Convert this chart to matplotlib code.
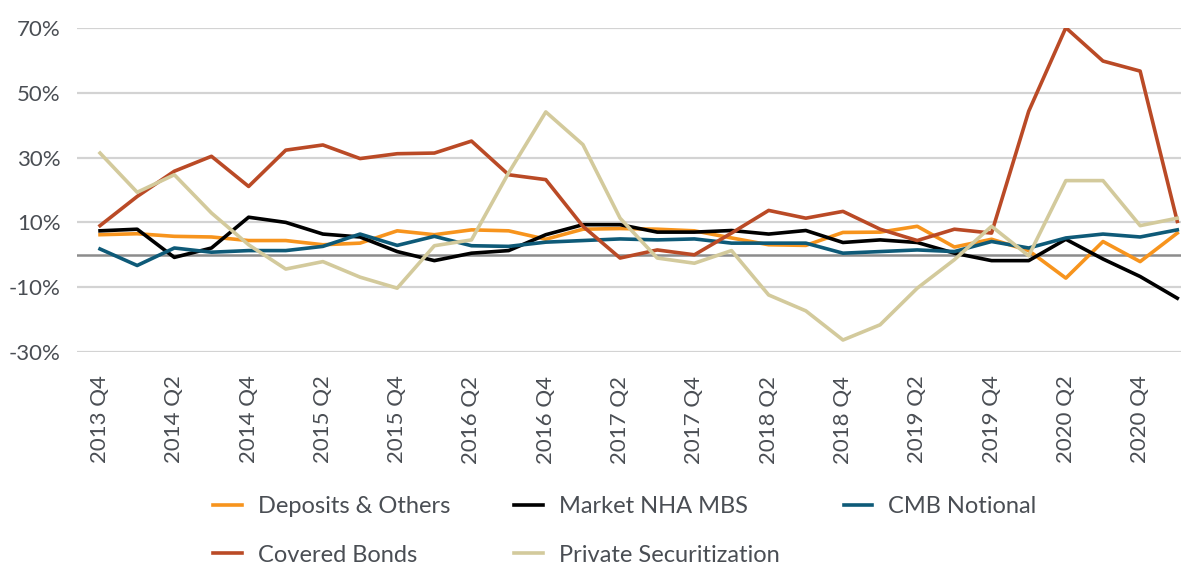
import numpy as np
import matplotlib.pyplot as plt

## Data (year-over-year growth, %)

quarters = ["2013 Q4", "2014 Q1", "2014 Q2", "2014 Q3", "2014 Q4",
            "2015 Q1", "2015 Q2", "2015 Q3", "2015 Q4", "2016 Q1",
            "2016 Q2", "2016 Q3", "2016 Q4", "2017 Q1", "2017 Q2",
            "2017 Q3", "2017 Q4", "2018 Q1", "2018 Q2", "2018 Q3",
            "2018 Q4", "2019 Q1", "2019 Q2", "2019 Q3", "2019 Q4",
            "2020 Q1", "2020 Q2", "2020 Q3", "2020 Q4", "2021 Q1"]

deposits = [6.2, 6.5, 5.7, 5.5, 4.4, 4.4, 3.1, 3.6, 7.4, 6.2,
            7.7, 7.4, 4.8, 7.9, 8.1, 7.9, 7.4, 5.2, 3.1, 2.9,
            6.9, 7.0, 8.8, 2.4, 4.8, 1.3, -7.2, 4.1, -2.1, 6.7]

market_nha = [7.4, 7.9, -0.8, 2.1, 11.6, 10.0, 6.4, 5.5, 1.0, -1.8,
              0.5, 1.3, 6.2, 9.3, 9.3, 7.0, 7.0, 7.5, 6.4, 7.5,
              3.8, 4.6, 3.8, 0.5, -1.8, -1.8, 4.8, -1.3, -6.7, -13.4]

cmb = [1.8, -3.3, 2.1, 0.8, 1.3, 1.3, 2.6, 6.4, 2.9, 5.7,
       2.8, 2.6, 3.9, 4.4, 4.9, 4.6, 4.9, 3.6, 3.6, 3.6,
       0.5, 1.0, 1.5, 1.0, 4.1, 2.1, 5.2, 6.4, 5.5, 7.7]

covered = [9.0, 18.0, 25.8, 30.4, 21.1, 32.3, 33.9, 29.7, 31.2, 31.4,
           35.1, 24.7, 23.2, 8.8, -1.0, 1.5, 0.0, 6.7, 13.7, 11.3,
           13.4, 7.9, 4.4, 7.9, 6.7, 44.3, 70.1, 59.8, 56.7, 10.3]

private_sec = [31.4, 19.3, 24.7, 12.9, 3.1, -4.4, -2.1, -6.9, -10.3, 2.8,
               4.6, 25.3, 44.1, 34.0, 11.3, -1.0, -2.6, 1.3, -12.4, -17.3,
               -26.3, -21.6, -10.3, -1.5, 8.8, -0.3, 22.9, 22.9, 9.0, 11.3]

series = [("Deposits & Others", deposits, "#F7941D"),
          ("Market NHA MBS", market_nha, "#000000"),
          ("CMB Notional", cmb, "#0E5A78"),
          ("Covered Bonds", covered, "#BA4A26"),
          ("Private Securitization", private_sec, "#D3CA9C")]

yticks = [-30, -10, 10, 30, 50, 70]

plt.rcParams['font.family'] = ['Lato', 'DejaVu Sans']
text_color = "#4A4E54"

fig = plt.figure(figsize=(11.81, 5.66), dpi=100)
ax = fig.add_axes([77 / 1181, 1 - 352 / 566, 1 - 77 / 1181, 324 / 566])

x = np.arange(len(quarters))

# gridlines and zero line
for t in yticks:
    ax.axhline(t, color="#D3D3D3", linewidth=1.6, zorder=1)
ax.axhline(0, color="#8C8C8C", linewidth=1.8, zorder=1)

lines = {}
for label, values, color in series:
    lines[label], = ax.plot(x, values, color=color, linewidth=2.6, label=label,
                            zorder=3)

ax.set_xlim(-0.62, 29.1)
ax.set_ylim(-30, 70)
ax.set_yticks(yticks)
ax.set_yticklabels([str(t) + "%" for t in yticks])
ax.set_xticks(x[::2])
ax.set_xticklabels(quarters[::2], rotation=90)
ax.tick_params(axis="y", length=0, pad=12, labelsize=16, labelcolor=text_color)
ax.tick_params(axis="x", length=0, pad=17, labelsize=16, labelcolor=text_color)
for s in ax.spines.values():
    s.set_visible(False)

# legend filled row by row (matplotlib fills column by column)
order = ["Deposits & Others", "Covered Bonds", "Market NHA MBS",
         "Private Securitization", "CMB Notional"]
leg = fig.legend([lines[k] for k in order], order,
                 loc="center", bbox_to_anchor=(625 / 1181, 1 - 531 / 566),
                 ncol=3, frameon=False, fontsize=17, handlelength=1.2,
                 handletextpad=0.7, columnspacing=2.7, labelspacing=1.15,
                 borderpad=0)
for t in leg.get_texts():
    t.set_color(text_color)

fig.savefig("out.png", dpi=100)
